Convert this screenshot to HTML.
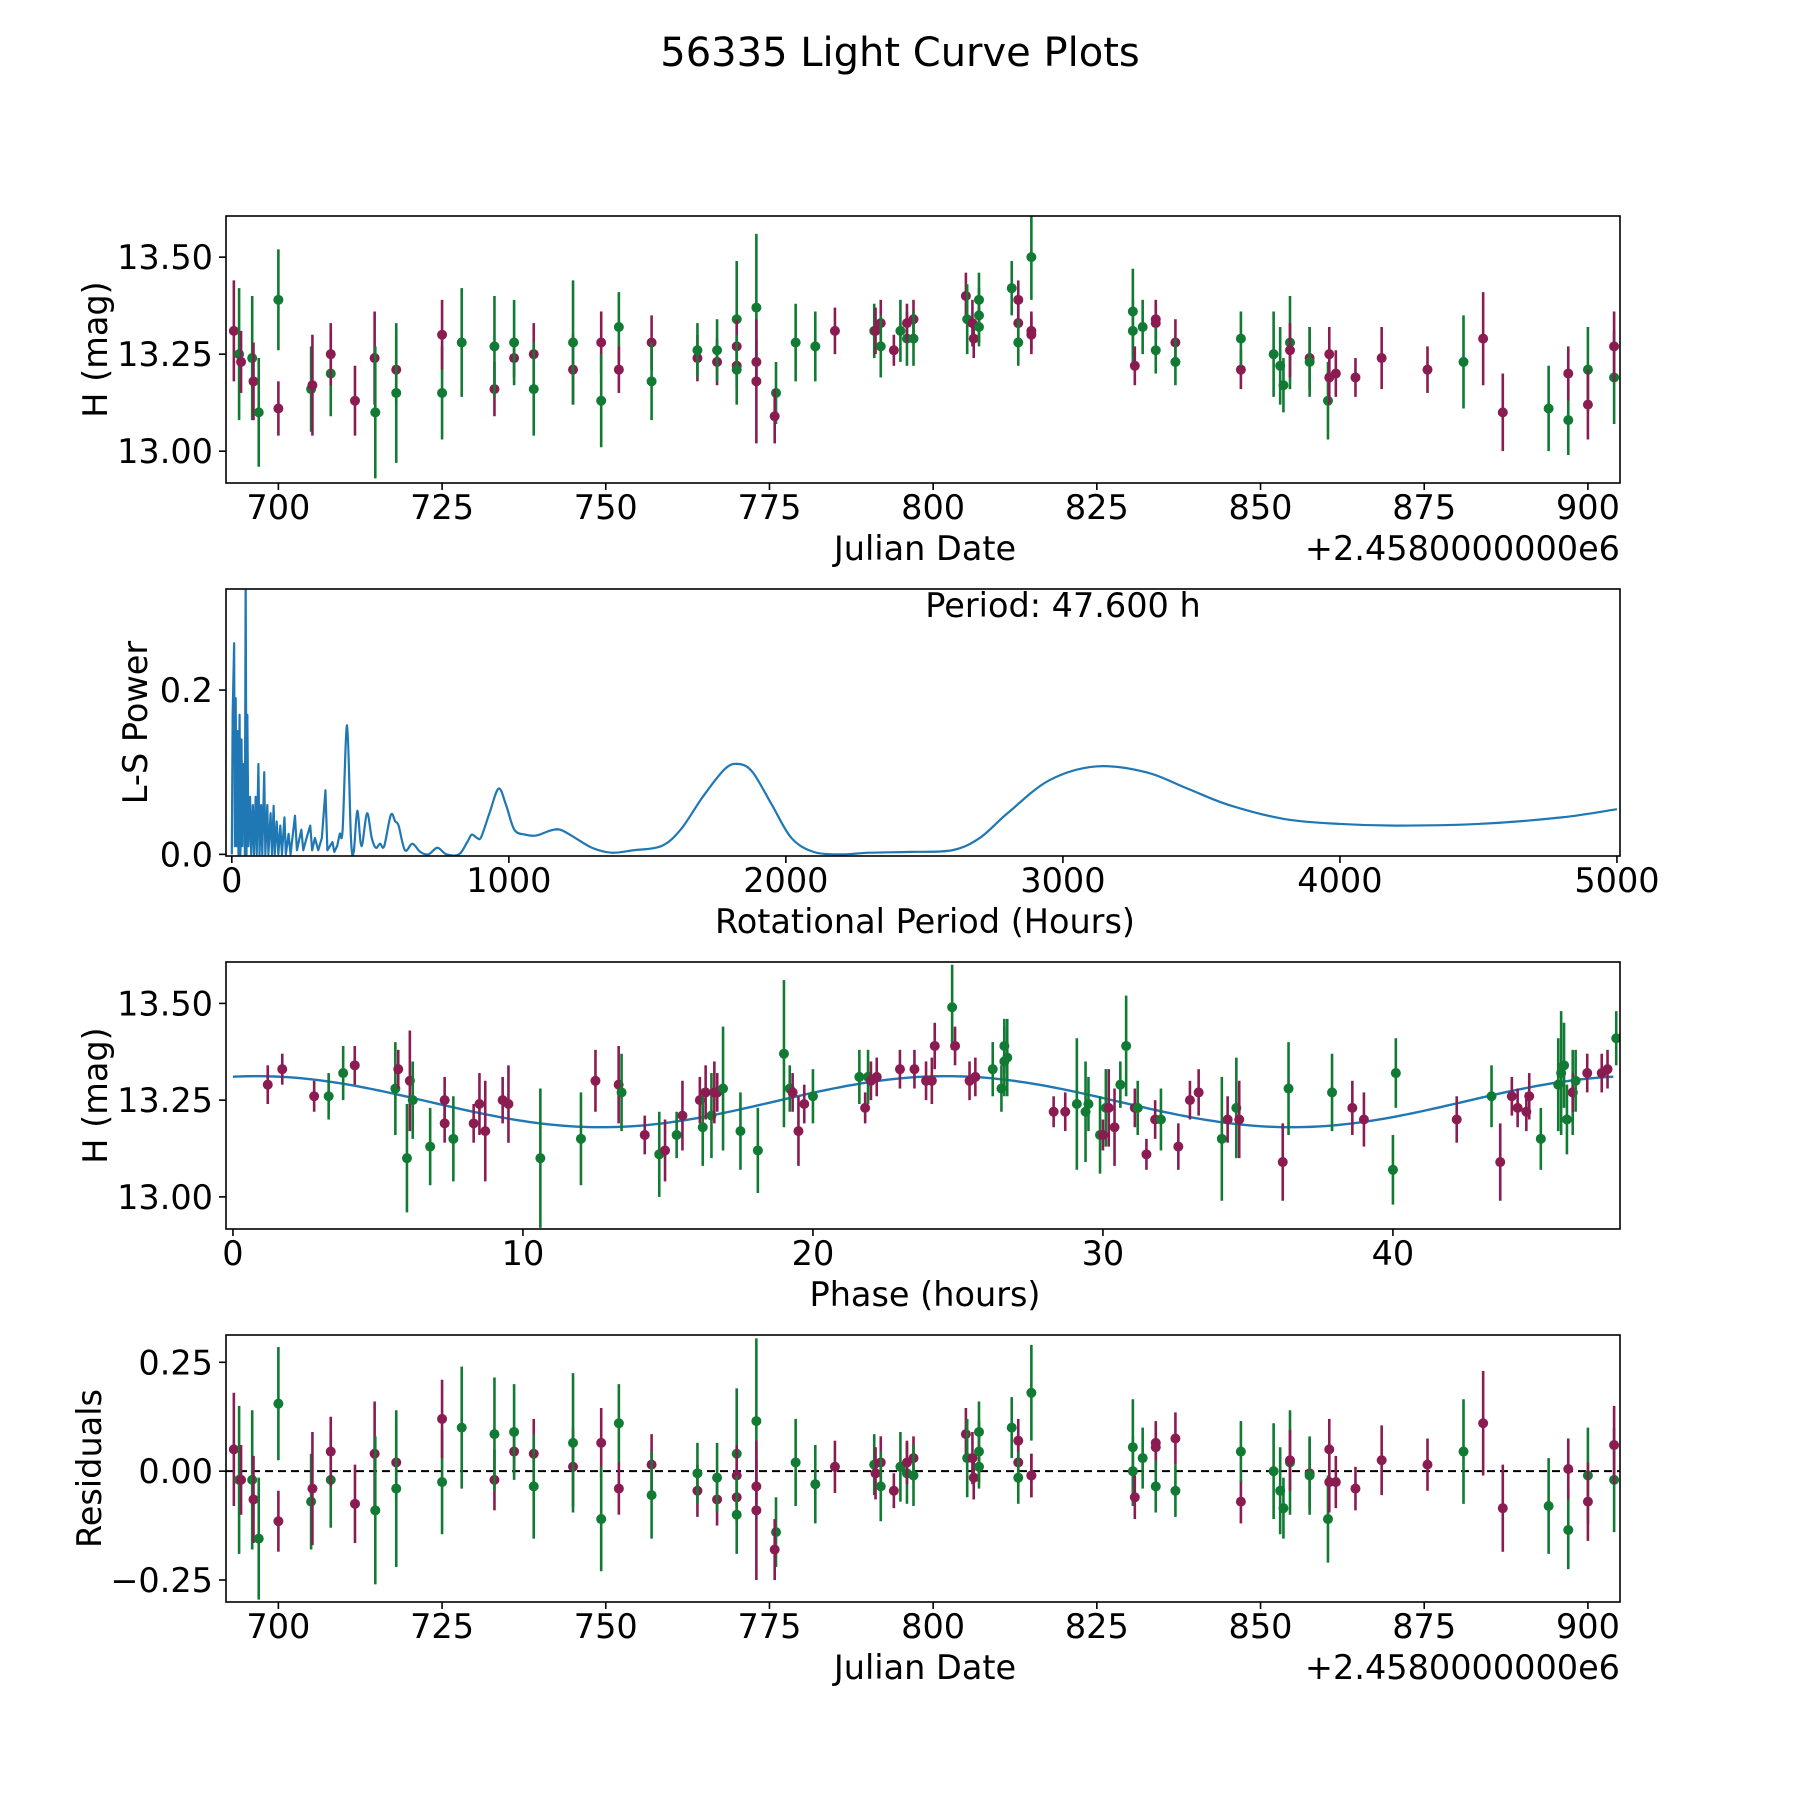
<!DOCTYPE html>
<html><head><meta charset="utf-8"><title>56335 Light Curve Plots</title>
<style>html,body{margin:0;padding:0;background:#fff}svg{display:block}text{font-family:"DejaVu Sans","Liberation Sans",sans-serif;fill:#000}</style>
</head><body>
<svg id="fig" width="1800" height="1800" viewBox="0 0 1800 1800" xmlns="http://www.w3.org/2000/svg">
<rect x="0" y="0" width="1800" height="1800" fill="#fff"/>
<text x="900" y="66" font-size="40" text-anchor="middle">56335 Light Curve Plots</text>
</svg>
<script>
// ---- Panel 1: light curve (Julian date offset 2458000) ----
const lcTime = [693.2,694.0,694.3,696.0,696.2,697.0,700.0,700.0,705.0,705.2,708.0,708.0,711.7,714.7,714.8,718.0,718.0,725.0,725.0,728.0,733.0,733.0,736.0,736.0,739.0,739.0,745.0,745.0,749.3,749.3,752.0,752.0,757.0,757.0,764.0,764.0,767.0,767.0,770.0,770.0,770.0,770.0,773.0,773.0,773.0,776.0,775.8,779.0,782.0,785.0,791.0,791.2,792.0,792.0,794.0,795.0,796.0,796.0,797.0,797.0,805.0,805.2,806.0,806.2,807.0,807.0,807.0,812.0,813.0,813.0,813.0,815.0,815.0,815.0,830.5,830.5,830.8,832.0,834.0,834.0,834.0,837.0,837.0,847.0,847.0,852.0,853.0,853.5,854.5,854.5,857.5,857.5,860.5,860.3,860.5,861.5,864.5,868.5,875.5,881.0,884.0,887.0,894.0,897.0,897.0,900.0,900.0,904.0,904.0];
const lcMag = [13.31,13.25,13.23,13.24,13.18,13.10,13.39,13.11,13.16,13.17,13.20,13.25,13.13,13.24,13.10,13.21,13.15,13.15,13.30,13.28,13.16,13.27,13.24,13.28,13.25,13.16,13.21,13.28,13.28,13.13,13.32,13.21,13.28,13.18,13.24,13.26,13.23,13.26,13.34,13.27,13.22,13.21,13.37,13.23,13.18,13.15,13.09,13.28,13.27,13.31,13.31,13.31,13.33,13.27,13.26,13.31,13.29,13.33,13.34,13.29,13.40,13.34,13.33,13.29,13.39,13.35,13.32,13.42,13.39,13.33,13.28,13.50,13.31,13.30,13.36,13.31,13.22,13.32,13.34,13.33,13.26,13.28,13.23,13.21,13.29,13.25,13.22,13.17,13.28,13.26,13.24,13.23,13.25,13.13,13.19,13.20,13.19,13.24,13.21,13.23,13.29,13.10,13.11,13.08,13.20,13.21,13.12,13.19,13.27];
const lcErr = [0.13,0.17,0.08,0.16,0.10,0.14,0.13,0.07,0.11,0.13,0.11,0.08,0.09,0.12,0.17,0.09,0.18,0.12,0.09,0.14,0.07,0.13,0.05,0.11,0.08,0.12,0.09,0.16,0.08,0.12,0.09,0.06,0.07,0.10,0.06,0.07,0.06,0.08,0.15,0.07,0.06,0.09,0.19,0.06,0.16,0.08,0.07,0.10,0.09,0.06,0.07,0.06,0.06,0.08,0.04,0.08,0.07,0.05,0.05,0.07,0.06,0.09,0.06,0.05,0.07,0.07,0.05,0.07,0.05,0.05,0.06,0.11,0.05,0.05,0.11,0.08,0.05,0.07,0.05,0.05,0.06,0.06,0.06,0.05,0.07,0.11,0.10,0.07,0.12,0.07,0.08,0.09,0.07,0.10,0.07,0.06,0.05,0.08,0.06,0.12,0.12,0.10,0.11,0.09,0.07,0.11,0.09,0.12,0.09];
const lcBand = ["p","g","p","g","p","g","g","p","g","p","g","p","p","p","g","p","g","g","p","g","p","g","p","g","p","g","p","g","p","g","g","p","p","g","p","g","p","g","g","p","p","g","g","p","p","g","p","g","g","p","g","p","p","g","p","g","g","p","p","g","p","g","p","p","g","g","g","g","p","p","g","g","p","p","g","g","p","g","p","p","g","p","g","p","g","g","g","g","g","p","p","g","p","g","p","p","p","p","p","g","p","p","g","g","p","g","p","g","p"];
const lcResid = [0.05,-0.02,-0.02,-0.02,-0.065,-0.155,0.155,-0.115,-0.07,-0.04,-0.02,0.045,-0.075,0.04,-0.09,0.02,-0.04,-0.025,0.12,0.10,-0.02,0.085,0.045,0.09,0.04,-0.035,0.01,0.065,0.065,-0.11,0.11,-0.04,0.015,-0.055,-0.045,-0.005,-0.065,-0.015,0.04,-0.01,-0.06,-0.10,0.115,-0.035,-0.09,-0.14,-0.18,0.02,-0.03,0.01,0.015,-0.005,0.02,-0.035,-0.045,0.01,-0.005,0.02,0.03,-0.01,0.085,0.03,0.03,-0.015,0.09,0.045,0.01,0.10,0.07,0.02,-0.015,0.18,-0.01,-0.01,0.055,0.0,-0.06,0.03,0.065,0.055,-0.035,0.075,-0.045,-0.07,0.045,0.0,-0.045,-0.085,0.02,0.025,-0.005,-0.01,0.05,-0.11,-0.025,-0.025,-0.04,0.025,0.015,0.045,0.11,-0.085,-0.08,-0.135,0.005,-0.01,-0.07,-0.02,0.06];
const timeTicks = [700,725,750,775,800,825,850,875,900];
const magTicks = [13.00,13.25,13.50];
const residTicks = [-0.25,0.00,0.25];

// ---- Panel 2: periodogram ----
const lsPeriod = [0,3,8.4,11,14,17,21,24,28,31,35,38,41,45,47,50,53,56,60,66,70,76,80,86,90,96,100,106,110,117,121,128,132,140,145,151,155,162,168,175,181,190,195,205,212,228,235,251,258,270,283,290,300,312,325,338,345,363,370,380,390,400,416,430,440,453,468,488,505,520,535,550,574,590,602,625,652,680,710,742,775,820,850,866,885,900,930,963,990,1020,1060,1100,1150,1185,1230,1300,1370,1450,1550,1620,1700,1780,1830,1880,1950,2020,2100,2200,2300,2450,2600,2700,2800,2950,3120,3300,3450,3600,3800,4000,4200,4500,4800,5000];
const lsPower = [0,0.17,0.257,0.01,0.19,0.01,0.15,0.0,0.17,0.0,0.14,0.01,0.11,0.10,0.0,0.34,0.0,0.17,0.01,0.07,0.0,0.06,0.0,0.07,0.0,0.11,0.0,0.06,0.0,0.10,0.0,0.06,0.0,0.05,0.0,0.059,0.0,0.04,0.0,0.035,0.0,0.045,0.0,0.025,0.0,0.047,0.005,0.03,0.005,0.02,0.035,0.005,0.02,0.005,0.02,0.078,0.005,0.015,0.003,0.01,0.025,0.03,0.157,0.02,0.003,0.053,0.01,0.05,0.02,0.008,0.013,0.01,0.048,0.04,0.035,0.005,0.013,0.003,0.0,0.008,0.0,0.0,0.015,0.024,0.02,0.021,0.05,0.08,0.06,0.03,0.024,0.023,0.029,0.03,0.022,0.008,0.002,0.005,0.01,0.03,0.07,0.104,0.11,0.10,0.06,0.02,0.003,0.0,0.002,0.003,0.005,0.02,0.05,0.09,0.107,0.10,0.08,0.06,0.043,0.037,0.035,0.037,0.045,0.055];
const periodTicks = [0,1000,2000,3000,4000,5000];
const powerTicks = [0.0,0.2];

// ---- Panel 3: phased light curve ----
const phHours = [1.2,1.7,2.8,3.3,3.8,4.2,5.6,5.7,6.1,6.0,6.2,6.8,7.3,7.3,7.6,8.3,8.5,8.7,9.3,9.5,10.6,12.0,12.5,13.3,13.4,14.2,14.7,14.9,15.3,15.5,16.1,16.2,16.3,16.5,16.6,16.7,16.9,17.5,18.1,19.0,19.2,19.3,19.5,19.7,20.0,21.6,21.8,21.9,22.0,22.2,23.0,23.5,23.9,24.1,24.2,24.8,24.9,25.4,25.6,26.2,26.5,26.6,26.6,26.7,28.3,28.7,29.1,29.4,29.5,29.9,30.1,30.0,30.2,30.4,30.6,30.8,31.1,31.2,31.5,31.8,32.0,32.6,33.0,33.3,34.1,34.3,34.6,34.7,36.2,36.4,37.9,38.6,39.0,40.0,40.1,42.2,43.4,43.7,44.1,44.3,44.6,44.7,45.1,45.7,45.8,45.9,46.0,46.2,46.2,46.3,46.7,47.2,47.4,47.7];
const phMag = [13.29,13.33,13.26,13.26,13.32,13.34,13.28,13.33,13.30,13.10,13.25,13.13,13.25,13.19,13.15,13.19,13.24,13.17,13.25,13.24,13.10,13.15,13.30,13.29,13.27,13.16,13.11,13.12,13.16,13.21,13.25,13.18,13.27,13.21,13.27,13.27,13.28,13.17,13.12,13.37,13.28,13.27,13.17,13.24,13.26,13.31,13.23,13.31,13.30,13.31,13.33,13.33,13.30,13.30,13.39,13.49,13.39,13.30,13.31,13.33,13.28,13.35,13.39,13.36,13.22,13.22,13.24,13.22,13.24,13.16,13.23,13.16,13.23,13.18,13.29,13.39,13.23,13.23,13.11,13.20,13.20,13.13,13.25,13.27,13.15,13.20,13.23,13.20,13.09,13.28,13.27,13.23,13.20,13.07,13.32,13.20,13.26,13.09,13.26,13.23,13.22,13.26,13.15,13.29,13.32,13.34,13.20,13.27,13.27,13.30,13.32,13.32,13.33,13.41];
const phErr = [0.05,0.04,0.04,0.06,0.07,0.05,0.12,0.05,0.13,0.14,0.10,0.10,0.06,0.05,0.11,0.05,0.08,0.13,0.06,0.10,0.18,0.12,0.08,0.10,0.10,0.05,0.11,0.08,0.06,0.09,0.06,0.10,0.07,0.11,0.08,0.05,0.16,0.10,0.11,0.19,0.06,0.05,0.09,0.05,0.07,0.07,0.04,0.07,0.05,0.05,0.05,0.05,0.05,0.06,0.06,0.11,0.05,0.05,0.05,0.07,0.06,0.09,0.07,0.10,0.04,0.05,0.17,0.13,0.07,0.10,0.10,0.04,0.10,0.10,0.06,0.13,0.05,0.07,0.04,0.05,0.08,0.06,0.05,0.06,0.16,0.06,0.13,0.10,0.10,0.12,0.10,0.07,0.07,0.09,0.09,0.06,0.08,0.10,0.05,0.05,0.05,0.06,0.08,0.12,0.16,0.11,0.09,0.11,0.05,0.08,0.05,0.05,0.05,0.07];
const phBand = ["p","p","p","g","g","p","g","p","p","g","g","g","p","p","g","p","p","p","p","p","g","g","p","p","g","p","g","p","g","p","p","g","p","g","p","p","g","g","g","g","g","p","p","p","g","g","p","g","p","p","p","p","p","p","p","g","p","p","p","g","g","g","g","g","p","p","g","g","g","g","g","p","p","p","g","g","p","g","p","p","g","p","p","p","g","p","g","p","p","g","g","p","p","g","g","p","g","p","p","p","p","p","g","g","g","g","g","g","p","g","p","p","p","g"];
const phaseTicks = [0,10,20,30,40];
// fitted model (double-peaked sinusoid): mean, amplitude, sub-period (h), phase of max (h)
const modelParams = [13.246, 0.066, 23.8, 0.8];

const COL = {p:"#8a1c52", g:"#117a33"};
const NS = "http://www.w3.org/2000/svg";
const svg = document.getElementById("fig");
const FS = 33.5;
function mk(tag, attrs, parent){
  const e = document.createElementNS(NS, tag);
  for (const k in attrs) e.setAttribute(k, attrs[k]);
  (parent||svg).appendChild(e);
  return e;
}
function lin(d0,d1,r0,r1){ return v => r0 + (v-d0)*(r1-r0)/(d1-d0); }

const L = 226, R = 1620;
function axesFrame(T,B,name){
  const g = mk("g",{});
  
  
  const clipId = name+"-clip";
  const cp = mk("clipPath",{id:clipId},g);
  mk("rect",{x:L,y:T,width:R-L,height:B-T},cp);
  const plot = mk("g",{"clip-path":"url(#"+clipId+")"},g);
  
  
  return {g,plot,T,B};
}
function drawFrame(ax){
  const r = mk("rect",{x:L,y:ax.T,width:R-L,height:ax.B-ax.T,fill:"none",stroke:"#000","stroke-width":1.6},ax.g);
  
  
}
function xTicks(ax, ticks, sx, fmt){
  ticks.forEach(t=>{
    const x = sx(t);
    mk("line",{x1:x,x2:x,y1:ax.B,y2:ax.B+7,stroke:"#000","stroke-width":1.6},ax.g);
    const tx = mk("text",{x:x,y:ax.B+36,"font-size":FS,"text-anchor":"middle"},ax.g);
    tx.textContent = fmt(t);
    
    
  });
}
function yTicks(ax, ticks, sy, fmt){
  ticks.forEach(t=>{
    const y = sy(t);
    mk("line",{x1:L-7,x2:L,y1:y,y2:y,stroke:"#000","stroke-width":1.6},ax.g);
    const tx = mk("text",{x:L-13,y:y+12,"font-size":FS,"text-anchor":"end"},ax.g);
    tx.textContent = fmt(t);
    
    
  });
}
function label(ax, txt, x, y, rot, name){
  const t = mk("text",{x:x,y:y,"font-size":FS,"text-anchor":"middle"},ax.g);
  if (rot) t.setAttribute("transform","rotate(-90 "+x+" "+y+")");
  t.textContent = txt;
  
  
  return t;
}
function errPoints(ax, xs, ys, es, bands, sx, sy, name){
  for (let i=0;i<xs.length;i++){
    const x = sx(xs[i]), c = COL[bands[i]];
    const ln = mk("line",{x1:x,x2:x,y1:sy(ys[i]-es[i]),y2:sy(ys[i]+es[i]),stroke:c,"stroke-width":2.6},ax.plot);
    
    
    const ci = mk("circle",{cx:x,cy:sy(ys[i]),r:5,fill:c},ax.plot);
    
    
  }
}
const f2 = v => v.toFixed(2);
const fMinus = v => (v<0?"\u2212":"")+Math.abs(v).toFixed(2);

// Panel 1
const ax1 = axesFrame(216,483,"light-curve-panel");
const sx1 = lin(692.0,904.9,L,R), sy1 = lin(12.918,13.606,483,216);
errPoints(ax1, lcTime, lcMag, lcErr, lcBand, sx1, sy1, "light-curve");
drawFrame(ax1);
xTicks(ax1,timeTicks,sx1,v=>String(v));
yTicks(ax1,magTicks,sy1,f2);
label(ax1,"Julian Date",925,560,false,"x-axis-title-julian-date");
const off1 = mk("text",{x:R,y:560,"font-size":FS,"text-anchor":"end"},ax1.g);
off1.textContent = "+2.4580000000e6";


label(ax1,"H (mag)",107,349.5,true,"y-axis-title-mag");

// Panel 2
const ax2 = axesFrame(589,856,"periodogram-panel");
const sx2 = lin(-21,5011,L,R), sy2 = lin(-0.002,0.323,856,589);
const pts = lsPeriod.map((p,i)=>[sx2(p), sy2(lsPower[i])]);
let d = "M"+pts[0][0].toFixed(2)+","+pts[0][1].toFixed(2);
for (let i=1;i<pts.length;i++){
  if (lsPeriod[i] <= 380){
    d += "L"+pts[i][0].toFixed(2)+","+pts[i][1].toFixed(2);
  } else {
    const p0 = pts[Math.max(i-2,0)], p1 = pts[i-1], p2 = pts[i], p3 = pts[Math.min(i+1,pts.length-1)];
    const c1x = p1[0]+(p2[0]-p0[0])/6, c1y = p1[1]+(p2[1]-p0[1])/6;
    const c2x = p2[0]-(p3[0]-p1[0])/6, c2y = p2[1]-(p3[1]-p1[1])/6;
    d += "C"+c1x.toFixed(2)+","+c1y.toFixed(2)+" "+c2x.toFixed(2)+","+c2y.toFixed(2)+" "+p2[0].toFixed(2)+","+p2[1].toFixed(2);
  }
}
const curve = mk("path",{d:d,fill:"none",stroke:"#1f77b4","stroke-width":2.2,"stroke-linejoin":"round"},ax2.plot);


drawFrame(ax2);
xTicks(ax2,periodTicks,sx2,v=>String(v));
yTicks(ax2,powerTicks,sy2,v=>v.toFixed(1));
label(ax2,"Rotational Period (Hours)",925,933,false,"x-axis-title-period");
label(ax2,"L-S Power",147,722.5,true,"y-axis-title-power");
const ann = mk("text",{x:1063,y:617,"font-size":FS,"text-anchor":"middle"},ax2.g);
ann.textContent = "Period: 47.600 h";



// Panel 3
const ax3 = axesFrame(962,1229,"phase-panel");
const sx3 = lin(-0.24,47.83,L,R), sy3 = lin(12.917,13.607,1229,962);
let dm = "";
for (let k=0;k<=200;k++){
  const ph = 47.6*k/200;
  const m = modelParams[0] + modelParams[1]*Math.cos(2*Math.PI*(ph-modelParams[3])/modelParams[2]);
  dm += (k?"L":"M")+sx3(ph).toFixed(2)+","+sy3(m).toFixed(2);
}
const mline = mk("path",{d:dm,fill:"none",stroke:"#1f77b4","stroke-width":2.4},ax3.plot);


errPoints(ax3, phHours, phMag, phErr, phBand, sx3, sy3, "phase");
drawFrame(ax3);
xTicks(ax3,phaseTicks,sx3,v=>String(v));
yTicks(ax3,magTicks,sy3,f2);
label(ax3,"Phase (hours)",925,1306,false,"x-axis-title-phase");
label(ax3,"H (mag)",107,1095.5,true,"y-axis-title-mag-phase");

// Panel 4
const ax4 = axesFrame(1335,1602,"residuals-panel");
const sy4 = lin(-0.3005,0.3127,1602,1335);
const zl = mk("line",{x1:L,x2:R,y1:sy4(0),y2:sy4(0),stroke:"#000","stroke-width":2,"stroke-dasharray":"8,5"},ax4.plot);


errPoints(ax4, lcTime, lcResid, lcErr, lcBand, sx1, sy4, "residual");
drawFrame(ax4);
xTicks(ax4,timeTicks,sx1,v=>String(v));
yTicks(ax4,residTicks,sy4,fMinus);
label(ax4,"Julian Date",925,1679,false,"x-axis-title-julian-date-residuals");
const off4 = mk("text",{x:R,y:1679,"font-size":FS,"text-anchor":"end"},ax4.g);
off4.textContent = "+2.4580000000e6";


label(ax4,"Residuals",101,1468.5,true,"y-axis-title-residuals");
</script>
</body></html>
